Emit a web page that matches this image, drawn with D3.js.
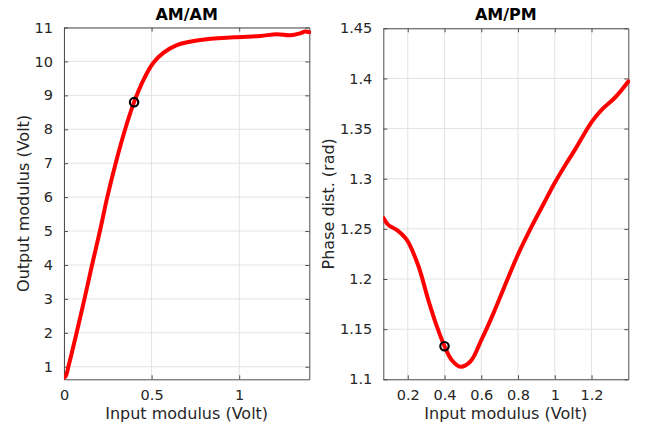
<!DOCTYPE html>
<html>
<head>
<meta charset="utf-8">
<script src="https://cdn.jsdelivr.net/npm/d3@7"></script>
<style>
  html, body { margin: 0; padding: 0; background: #fff; }
  svg { display: block; font-family: "DejaVu Sans", sans-serif; }
</style>
</head>
<body>
<svg id="chart" width="645" height="426"></svg>
<script>
// AM/AM characteristic: output modulus vs input modulus (Volt)
const amamInput  = [0, 0.01, 0.025, 0.072, 0.117, 0.16, 0.205, 0.247, 0.295, 0.349, 0.40, 0.453, 0.51, 0.567, 0.644, 0.777, 0.968, 1.12, 1.215, 1.29, 1.349, 1.377, 1.40];
const amamOutput = [0.68, 0.72, 1.0, 2, 3, 4, 5, 6, 7, 8, 8.8, 9.45, 9.96, 10.25, 10.48, 10.63, 10.71, 10.75, 10.80, 10.77, 10.83, 10.88, 10.86];

// AM/PM characteristic: phase distortion (rad) vs input modulus (Volt)
const ampmInput  = [0.067, 0.094, 0.14, 0.195, 0.258, 0.312, 0.358, 0.40, 0.44, 0.4875, 0.542, 0.6, 0.669, 0.741, 0.8, 0.866, 0.938, 1.0, 1.065, 1.11, 1.2, 1.256, 1.328, 1.40];
const ampmPhase  = [1.261, 1.254, 1.249, 1.239, 1.213, 1.179, 1.153, 1.133, 1.119, 1.1125, 1.118, 1.139, 1.167, 1.199, 1.2245, 1.2495, 1.2745, 1.296, 1.316, 1.329, 1.3565, 1.369, 1.381, 1.397];

// Operating point marked on each curve
const opInput  = [0.4];
const opOutput = [8.8];
const opPhase  = [1.133];

// Axis ticks
const amamXTicks = [0, 0.5, 1];
const amamYTicks = [1, 2, 3, 4, 5, 6, 7, 8, 9, 10, 11];
const ampmXTicks = [0.2, 0.4, 0.6, 0.8, 1, 1.2];
const ampmYTicks = [1.1, 1.15, 1.2, 1.25, 1.3, 1.35, 1.4, 1.45];

const svg = d3.select("#chart");
const axisColor = "#4d4d4d";
const gridColor = "#e3e3e3";
const textColor = "#262626";
const tickLen = 4;

function panel(opts) {
  const { left, right, top, bottom, xDomain, yDomain, xTicks, yTicks,
          xs, ys, px, py, title, xLabel, yLabel, yLabelX } = opts;
  const x = d3.scaleLinear().domain(xDomain).range([left, right]);
  const y = d3.scaleLinear().domain(yDomain).range([bottom, top]);
  const g = svg.append("g");
  const fmt = d => String(+d.toFixed(2));

  // grid
  g.append("g").selectAll("line").data(xTicks).join("line")
    .attr("x1", d => x(d)).attr("x2", d => x(d))
    .attr("y1", top).attr("y2", bottom)
    .attr("stroke", gridColor).attr("stroke-width", 1);
  g.append("g").selectAll("line").data(yTicks).join("line")
    .attr("x1", left).attr("x2", right)
    .attr("y1", d => y(d)).attr("y2", d => y(d))
    .attr("stroke", gridColor).attr("stroke-width", 1);

  // box axes with ticks pointing inward
  const xAxis = d3.axisBottom(x).tickValues(xTicks).tickFormat(fmt)
    .tickSizeInner(-tickLen).tickSizeOuter(0).tickPadding(10);
  const yAxis = d3.axisLeft(y).tickValues(yTicks).tickFormat(fmt)
    .tickSizeInner(-tickLen).tickSizeOuter(0).tickPadding(11);
  const xTop = d3.axisTop(x).tickValues(xTicks).tickFormat("")
    .tickSizeInner(-tickLen).tickSizeOuter(0);
  const yRight = d3.axisRight(y).tickValues(yTicks).tickFormat("")
    .tickSizeInner(-tickLen).tickSizeOuter(0);

  const styleAxis = sel => {
    sel.select(".domain").attr("stroke", axisColor);
    sel.selectAll(".tick line").attr("stroke", axisColor);
    sel.selectAll(".tick text").attr("fill", textColor)
      .style("font-family", "DejaVu Sans").style("font-size", "14.5px");
  };
  g.append("g").attr("transform", `translate(0,${bottom})`).call(xAxis).call(styleAxis);
  g.append("g").attr("transform", `translate(${left},0)`).call(yAxis).call(styleAxis);
  g.append("g").attr("transform", `translate(0,${top})`).call(xTop).call(styleAxis);
  g.append("g").attr("transform", `translate(${right},0)`).call(yRight).call(styleAxis);

  // curve
  const clipId = "clip-" + title.replace(/\W/g, "");
  svg.append("clipPath").attr("id", clipId).append("rect")
    .attr("x", left).attr("y", top - 2).attr("width", right - left + 2).attr("height", bottom - top + 4);
  const pts = xs.map((v, i) => [v, ys[i]]);
  g.append("path").datum(pts)
    .attr("clip-path", `url(#${clipId})`)
    .attr("fill", "none").attr("stroke", "#ff0000").attr("stroke-width", 4)
    .attr("stroke-linejoin", "round").attr("stroke-linecap", "round")
    .attr("d", d3.line().x(d => x(d[0])).y(d => y(d[1])).curve(d3.curveCatmullRom.alpha(0.5)));

  // operating point
  g.selectAll("circle.op").data(px.map((v, i) => [v, py[i]])).join("circle")
    .attr("class", "op")
    .attr("cx", d => x(d[0])).attr("cy", d => y(d[1])).attr("r", 4.2)
    .attr("fill", "none").attr("stroke", "#000").attr("stroke-width", 2.2);

  // title and labels
  g.append("text").attr("x", (left + right) / 2).attr("y", 20)
    .attr("text-anchor", "middle").attr("fill", "#000")
    .style("font-weight", "bold").style("font-size", "16px").text(title);
  g.append("text").attr("x", (left + right) / 2).attr("y", 419)
    .attr("text-anchor", "middle").attr("fill", textColor)
    .style("font-size", "16px").text(xLabel);
  g.append("text")
    .attr("transform", `translate(${yLabelX},${(top + bottom) / 2}) rotate(-90)`)
    .attr("text-anchor", "middle").attr("dy", "0.35em").attr("fill", textColor)
    .style("font-size", "16px").text(yLabel);
}

panel({
  left: 64, right: 309.3, top: 27.5, bottom: 379.3,
  xDomain: [0, 1.4], yDomain: [0.63, 11],
  xTicks: amamXTicks, yTicks: amamYTicks,
  xs: amamInput, ys: amamOutput, px: opInput, py: opOutput,
  title: "AM/AM", xLabel: "Input modulus (Volt)", yLabel: "Output modulus (Volt)", yLabelX: 23
});

panel({
  left: 383.3, right: 628.3, top: 28.3, bottom: 379.3,
  xDomain: [0.067, 1.4], yDomain: [1.1, 1.45],
  xTicks: ampmXTicks, yTicks: ampmYTicks,
  xs: ampmInput, ys: ampmPhase, px: opInput, py: opPhase,
  title: "AM/PM", xLabel: "Input modulus (Volt)", yLabel: "Phase dist. (rad)", yLabelX: 328
});
</script>
</body>
</html>
